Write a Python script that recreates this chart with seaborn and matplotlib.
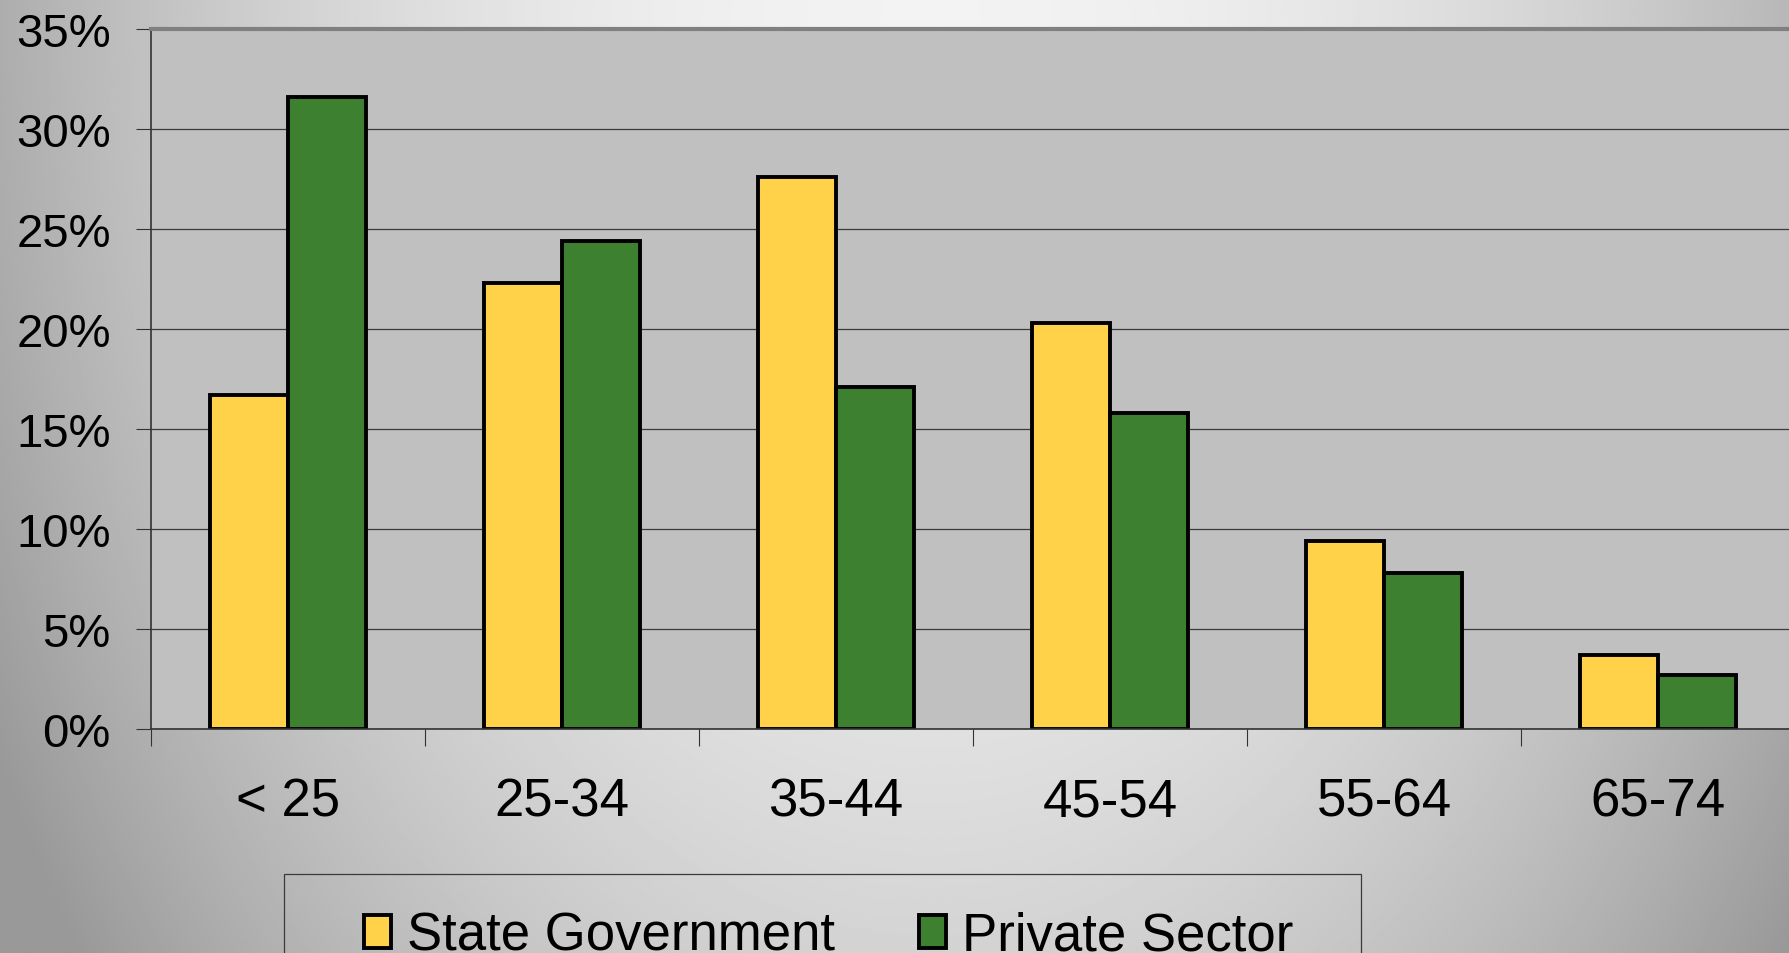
import numpy as np
import pandas as pd
import seaborn as sns
from matplotlib import pyplot as plt
from matplotlib.patches import Patch, Rectangle
from matplotlib.ticker import FuncFormatter

age_groups = ['< 25', '25-34', '35-44', '45-54', '55-64', '65-74']
state_gov = [16.7, 22.3, 27.6, 20.3, 9.4, 3.7]
private_sector = [31.6, 24.4, 17.1, 15.8, 7.8, 2.7]
series_names = ['State Government', 'Private Sector']
colors = ['#FFD24A', '#3C8030']

sns.set_style('white')
plt.rcParams['font.family'] = ['Liberation Sans', 'DejaVu Sans']
plt.rcParams['text.color'] = 'black'
plt.rcParams['xtick.labelcolor'] = 'black'
plt.rcParams['ytick.labelcolor'] = 'black'

df = pd.DataFrame({
    'age': age_groups * 2,
    'pct': state_gov + private_sector,
    'sector': [series_names[0]] * 6 + [series_names[1]] * 6,
})

fig = plt.figure(figsize=(17.9, 9.54), dpi=100)

# gray radial background, light near the top centre
bg = fig.add_axes([0, 0, 1, 1], zorder=-10)
yy, xx = np.mgrid[0:1:400j, 0:1:700j]
r2 = ((xx - 0.52) / 0.5) ** 2 + ((yy - 0.02) / 1.4) ** 2
shade = np.clip(0.95 - 0.25 * r2, 0.6, 1.0)
bg.imshow(shade, cmap='gray', vmin=0, vmax=1, aspect='auto',
          extent=(0, 1, 1, 0), interpolation='bilinear')
bg.set_axis_off()

ax = fig.add_axes([151 / 1790, 1 - 730 / 954, 1644 / 1790, 700 / 954])
ax.set_facecolor('#C0C0C0')

sns.barplot(data=df, x='age', y='pct', hue='sector', palette=colors,
            width=0.57, edgecolor='black', linewidth=2.8, ax=ax,
            legend=False, saturation=1)

ax.set_xlim(-0.5, 5.5)
ax.set_ylim(0, 35)
ax.set_yticks(np.arange(0, 36, 5))
ax.yaxis.set_major_formatter(FuncFormatter(lambda v, p: '%d%%' % v))
ax.set_xlabel('')
ax.set_ylabel('')

ax.yaxis.grid(True, color='#3a3a3a', linewidth=0.9)
ax.set_axisbelow(True)

ax.tick_params(axis='y', which='major', left=True, length=11, width=0.8,
               color='#333333', pad=18, labelsize=34)
ax.tick_params(axis='x', which='major', bottom=True, length=0, pad=34,
               labelsize=38)
ax.set_xticks(np.arange(-0.5, 6, 1), minor=True)
ax.tick_params(axis='x', which='minor', bottom=True, length=12, width=0.8,
               color='#333333')

for side in ['left', 'bottom']:
    ax.spines[side].set_color('#333333')
    ax.spines[side].set_linewidth(1.2)
ax.spines['top'].set_color('#808080')
ax.spines['top'].set_linewidth(3)
ax.spines['right'].set_visible(False)

handles = [Patch(facecolor=c, edgecolor='black', linewidth=2.8) for c in colors]
fig.legend(handles, series_names, loc='upper left',
           bbox_to_anchor=(364 / 1790, 1 - 912 / 954), frameon=False,
           ncol=2, fontsize=38, borderpad=0, borderaxespad=0,
           handlelength=0.51, handleheight=0.57, handletextpad=0.3,
           columnspacing=1.6)
fig.patches.append(Rectangle((284 / 1790, -0.1), 1077 / 1790, 0.1 + 79 / 954,
                             transform=fig.transFigure, fill=False,
                             edgecolor='#3a3a3a', linewidth=0.9))

fig.savefig('out.png', dpi=100)
